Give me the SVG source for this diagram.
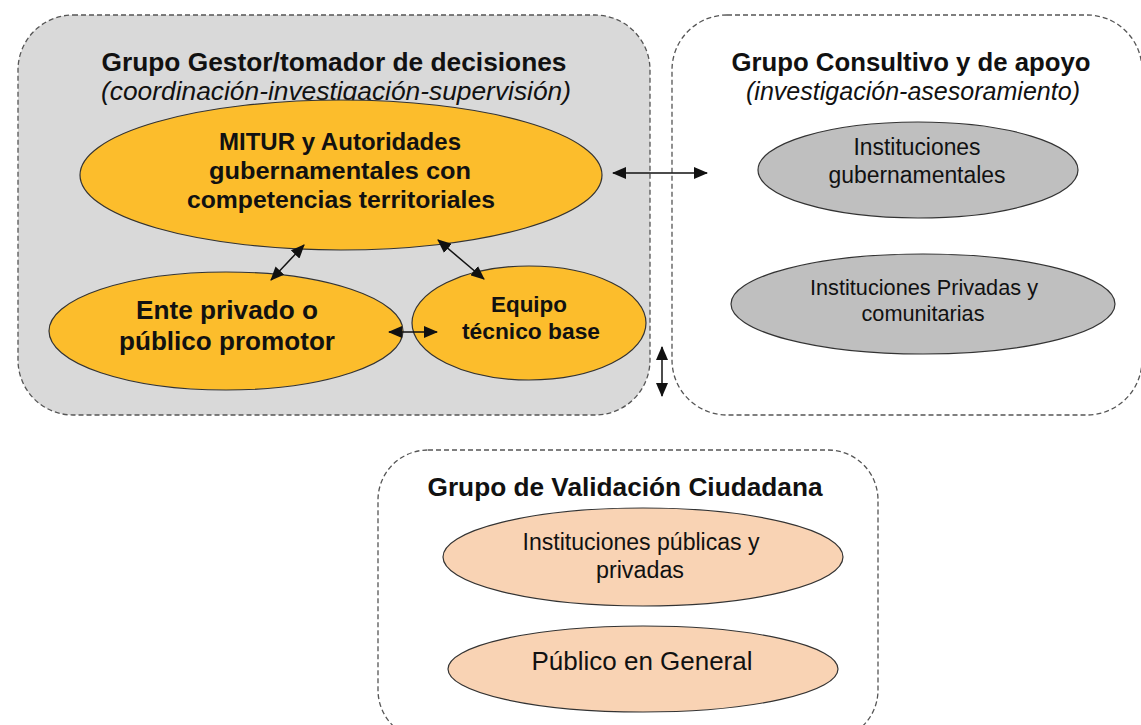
<svg xmlns="http://www.w3.org/2000/svg" width="1141" height="725" viewBox="0 0 1141 725">
<defs>
<style>
.grp{stroke:#555;stroke-width:1.3;stroke-dasharray:5 3}
.t{font-family:"Liberation Sans",Arial,sans-serif;fill:#111;text-anchor:middle}
.b{font-weight:bold}
.i{font-style:italic}
.org{fill:#fcbd2c;stroke:#333;stroke-width:1.2}
.gry{fill:#bfbfbf;stroke:#333;stroke-width:1.2}
.pch{fill:#f9d3b4;stroke:#333;stroke-width:1.2}
.c{stroke:#111;stroke-width:1.5;fill:none;marker-start:url(#ah);marker-end:url(#ah)}
</style>
<marker id="ah" viewBox="0 0 14 12" refX="13" refY="6" markerWidth="14" markerHeight="12" markerUnits="userSpaceOnUse" orient="auto-start-reverse">
<path d="M0,0 L14,6 L0,12 z" fill="#111"/>
</marker>
</defs>
<rect width="1141" height="725" fill="#fff"/>

<g id="grupo-gestor">
<rect class="grp" x="18" y="15" width="632" height="400" rx="55" fill="#d9d9d9"/>
<text class="t b" x="334" y="71" font-size="26" textLength="465" lengthAdjust="spacingAndGlyphs">Grupo Gestor/tomador de decisiones</text>
<text class="t i" x="336" y="100" font-size="26" textLength="470" lengthAdjust="spacingAndGlyphs">(coordinación-investigación-supervisión)</text>
</g>
<g id="grupo-consultivo">
<rect class="grp" x="672" y="15" width="470" height="400" rx="55" fill="#fff"/>
<text class="t b" x="911" y="71" font-size="26" textLength="359" lengthAdjust="spacingAndGlyphs">Grupo Consultivo y de apoyo</text>
<text class="t i" x="913" y="100" font-size="26" textLength="334" lengthAdjust="spacingAndGlyphs">(investigación-asesoramiento)</text>
</g>
<g id="grupo-validacion">
<rect class="grp" x="378" y="450" width="500" height="290" rx="50" fill="#fff"/>
<text class="t b" x="625" y="496" font-size="26" textLength="395" lengthAdjust="spacingAndGlyphs">Grupo de Validación Ciudadana</text>
</g>

<g id="mitur">
<ellipse class="org" cx="341" cy="175" rx="261" ry="75"/>
<text class="t b" x="340" y="150" font-size="24" textLength="242" lengthAdjust="spacingAndGlyphs">MITUR y Autoridades</text>
<text class="t b" x="340" y="179" font-size="24" textLength="262" lengthAdjust="spacingAndGlyphs">gubernamentales con</text>
<text class="t b" x="341" y="208" font-size="24" textLength="308" lengthAdjust="spacingAndGlyphs">competencias territoriales</text>
</g>
<g id="ente">
<ellipse class="org" cx="226" cy="331" rx="177" ry="59"/>
<text class="t b" x="227" y="319" font-size="26" textLength="182" lengthAdjust="spacingAndGlyphs">Ente privado o</text>
<text class="t b" x="227" y="350" font-size="26" textLength="216" lengthAdjust="spacingAndGlyphs">público promotor</text>
</g>
<g id="equipo">
<ellipse class="org" cx="529" cy="323" rx="117" ry="57"/>
<text class="t b" x="529" y="312" font-size="22" textLength="76" lengthAdjust="spacingAndGlyphs">Equipo</text>
<text class="t b" x="531" y="339" font-size="22" textLength="138" lengthAdjust="spacingAndGlyphs">técnico base</text>
</g>

<g id="inst-gub">
<ellipse class="gry" cx="918" cy="170" rx="160" ry="48"/>
<text class="t" x="917" y="155" font-size="23" textLength="127" lengthAdjust="spacingAndGlyphs">Instituciones</text>
<text class="t" x="917" y="183" font-size="23" textLength="177" lengthAdjust="spacingAndGlyphs">gubernamentales</text>
</g>
<g id="inst-priv">
<ellipse class="gry" cx="923" cy="304" rx="192" ry="50"/>
<text class="t" x="924" y="295" font-size="22" textLength="228" lengthAdjust="spacingAndGlyphs">Instituciones Privadas y</text>
<text class="t" x="923" y="321" font-size="22" textLength="123" lengthAdjust="spacingAndGlyphs">comunitarias</text>
</g>

<g id="inst-pub-priv">
<ellipse class="pch" cx="643" cy="557" rx="200" ry="49"/>
<text class="t" x="641" y="550" font-size="23" textLength="237" lengthAdjust="spacingAndGlyphs">Instituciones públicas y</text>
<text class="t" x="640" y="578" font-size="23" textLength="88" lengthAdjust="spacingAndGlyphs">privadas</text>
</g>
<g id="publico">
<ellipse class="pch" cx="643" cy="669" rx="195" ry="43"/>
<text class="t" x="642" y="670" font-size="26" textLength="221" lengthAdjust="spacingAndGlyphs">Público en General</text>
</g>

<g id="connectors">
<line class="c" x1="304" y1="245" x2="271" y2="280"/>
<line class="c" x1="438" y1="240" x2="484" y2="279"/>
<line class="c" x1="389" y1="332" x2="437" y2="332"/>
<line class="c" x1="613" y1="173" x2="707" y2="173"/>
<line class="c" x1="662" y1="347" x2="662" y2="396"/>
</g>
</svg>
